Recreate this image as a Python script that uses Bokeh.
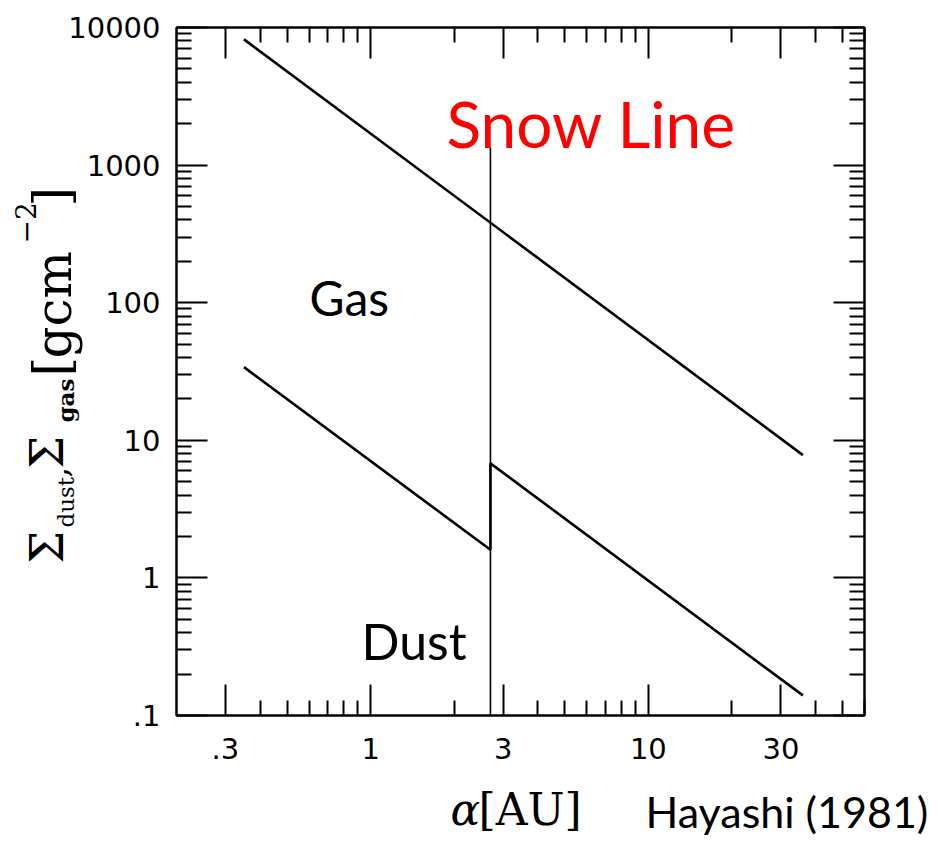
import numpy as np
from bokeh.plotting import figure
from bokeh.models import FixedTicker, LogAxis, Label, CustomJSTickFormatter
from bokeh.core.properties import value
from bokeh.embed import file_html
from bokeh.resources import INLINE

# ---------------- data ----------------
gas_r = [0.35, 36.0]
gas_sigma = [8200.0, 7.8]
dust_r = [0.35, 2.7, 2.7, 36.0]
dust_sigma = [34.0, 1.6, 6.8, 0.14]
snow_r = [2.7, 2.7]
snow_sigma = [0.1, 1350.0]

x_major = [0.3, 1, 3, 10, 30]
x_major_labels = [".3", "1", "3", "10", "30"]
x_minor = [0.4, 0.5, 0.6, 0.7, 0.8, 0.9, 2, 4, 5, 6, 7, 8, 9, 20, 40, 50, 60]
y_major = [0.1, 1, 10, 100, 1000, 10000]
y_major_labels = [".1", "1", "10", "100", "1000", "10000"]
y_minor = [0.2, 0.3, 0.4, 0.5, 0.6, 0.7, 0.8, 0.9,
           2, 3, 4, 5, 6, 7, 8, 9,
           20, 30, 40, 50, 60, 70, 80, 90,
           200, 300, 400, 500, 600, 700, 800, 900,
           2000, 3000, 4000, 5000, 6000, 7000, 8000, 9000]

X_RANGE = (0.2, 60)
Y_RANGE = (0.1, 10000)

# ---------------- layout ----------------
W, H = 939, 841
FL, FT, FW, FH = 176, 27, 688, 688


def dx(px):
    return 10 ** (np.log10(X_RANGE[0]) + (px - FL) / FW * np.log10(X_RANGE[1] / X_RANGE[0]))


def dy(py):
    return 10 ** (np.log10(Y_RANGE[1]) - (py - FT) / FH * np.log10(Y_RANGE[1] / Y_RANGE[0]))


p = figure(width=W, height=H, x_axis_type="log", y_axis_type="log",
           x_range=X_RANGE, y_range=Y_RANGE, output_backend="svg",
           toolbar_location=None, min_border_left=FL, min_border_right=W - FL - FW,
           min_border_top=FT, min_border_bottom=H - FT - FH)
p.background_fill_color = "white"
p.border_fill_color = "white"
p.outline_line_color = "black"
p.outline_line_width = 2
p.xgrid.visible = False
p.ygrid.visible = False

label_js = """
for (let i = 0; i < vals.length; i++) {
  if (Math.abs(vals[i] - tick) < 1e-6 * Math.abs(vals[i])) { return labs[i]; }
}
return '';
"""
blank = CustomJSTickFormatter(code="return '';")


def style_axis(ax, show_labels, standoff=0):
    ax.axis_line_width = 2
    ax.axis_line_color = "black"
    ax.major_tick_in = 31
    ax.major_tick_out = 0
    ax.minor_tick_in = 15
    ax.minor_tick_out = 0
    ax.major_tick_line_width = 2
    ax.minor_tick_line_width = 2
    ax.major_tick_line_color = "black"
    ax.minor_tick_line_color = "black"
    if show_labels:
        ax.major_label_text_font = "DejaVu Sans"
        ax.major_label_text_font_size = "29px"
        ax.major_label_text_color = "black"
        ax.major_label_standoff = standoff
    else:
        ax.major_label_text_font_size = "0px"
        ax.major_label_standoff = 0


xax = p.xaxis[0]
xax.ticker = FixedTicker(ticks=x_major, minor_ticks=x_minor)
xax.formatter = CustomJSTickFormatter(args=dict(vals=x_major, labs=x_major_labels), code=label_js)
style_axis(xax, True, 22)

yax = p.yaxis[0]
yax.ticker = FixedTicker(ticks=y_major, minor_ticks=y_minor)
yax.formatter = CustomJSTickFormatter(args=dict(vals=y_major, labs=y_major_labels), code=label_js)
style_axis(yax, True, 16)

top = LogAxis(ticker=FixedTicker(ticks=x_major, minor_ticks=x_minor), formatter=blank)
style_axis(top, False)
p.add_layout(top, "above")
right = LogAxis(ticker=FixedTicker(ticks=y_major, minor_ticks=y_minor), formatter=blank)
style_axis(right, False)
p.add_layout(right, "right")

# ---------------- lines ----------------
p.line(snow_r, snow_sigma, line_color="black", line_width=1.6)
p.line(gas_r, gas_sigma, line_color="black", line_width=2.6)
p.line(dust_r, dust_sigma, line_color="black", line_width=2.6)

# ---------------- text ----------------
SANS = "Lato"
SERIF = "DejaVu Serif"
SHIFT = 0.37  # empirical baseline correction for text glyphs


def add_label(px, py, text, font, size, color="black"):
    p.add_layout(Label(x=dx(px), y=dy(py), text=text, text_font=font,
                       text_font_size=f"{size}px", text_color=color,
                       text_align="left", text_baseline="alphabetic"))


def add_text(px, py, text, font, size, rotated=False, style="normal", color="black"):
    # (px, py): start of the baseline in picture pixels
    if rotated:
        ax_, ay_ = px - SHIFT * size, py
        ang = np.pi / 2
    else:
        ax_, ay_ = px, py - SHIFT * size
        ang = 0.0
    p.text(x=[dx(ax_)], y=[dy(ay_)], text=[text], text_font=value(font),
           text_font_size=value(f"{size}px"), text_color=color,
           text_font_style=style, text_align="left", text_baseline="alphabetic",
           angle=ang, level="annotation")


add_label(446, 123, "Snow Line", SANS, 64, color="#ff0000")
add_label(309, 297, "Gas", SANS, 48)
add_label(361, 640, "Dust", SANS, 50)

add_text(450, 825, "α", SERIF, 44, style="italic")
add_text(478, 825, "[AU]", SERIF, 44)
add_text(645, 827, "Hayashi (1981)", SANS, 43)

# rotated y-axis label pieces: (baseline x, start y (bottom), text, size)
add_text(64, 563, "Σ", SERIF, 46, rotated=True)
add_text(74, 527, "dust", SERIF, 23, rotated=True)
add_text(68, 477, ",", SERIF, 34, rotated=True)
add_text(64, 468, "Σ", SERIF, 46, rotated=True)
add_text(74, 422, "gas", SERIF, 23, rotated=True, style="bold")
add_text(70, 376, "[", SERIF, 50, rotated=True)
add_text(72, 358, "gcm", SERIF, 50, rotated=True)
add_text(35, 243, "−2", SERIF, 28, rotated=True)
add_text(70, 206, "]", SERIF, 50, rotated=True)

open("out.html", "w").write(file_html(p, INLINE))
